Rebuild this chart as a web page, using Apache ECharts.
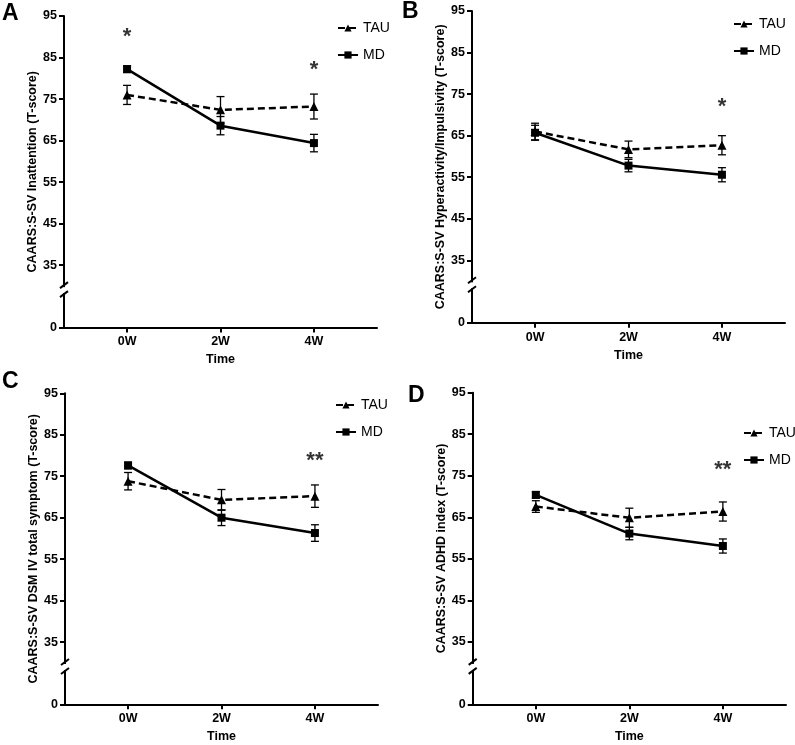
<!DOCTYPE html>
<html><head><meta charset="utf-8">
<script src="https://cdn.jsdelivr.net/npm/echarts@6/dist/echarts.min.js"></script>
<style>html,body{margin:0;padding:0;background:#fff}#c{width:795px;height:745px}</style>
</head><body><div id="c"></div>
<script>
// ---------- data ----------
const categories = ['0W', '2W', '4W'];
const yTickValues = [0, 35, 45, 55, 65, 75, 85, 95];
const seriesNames = ['TAU', 'MD'];
const panelLetters = ['A', 'B', 'C', 'D'];
const yTitles = [
  'CAARS:S-SV Inattention (T-score)',
  'CAARS:S-SV Hyperactivity/Impulsivity (T-score)',
  'CAARS:S-SV DSM IV total symptom (T-score)',
  'CAARS:S-SV ADHD index (T-score)'
];
const xTitle = 'Time';

const tauA = [76.0, 72.4, 73.2];  const tauErrA = [2.3, 3.2, 3.0];
const mdA  = [82.2, 68.6, 64.4];  const mdErrA  = [0.8, 2.2, 2.1];
const tauB = [66.0, 61.7, 62.7];  const tauErrB = [2.0, 2.0, 2.3];
const mdB  = [65.7, 57.8, 55.6];  const mdErrB  = [1.8, 1.5, 1.7];
const tauC = [73.8, 69.3, 70.2];  const tauErrC = [2.1, 2.5, 2.7];
const mdC  = [77.6, 65.0, 61.3];  const mdErrC  = [0.8, 1.9, 2.0];
const tauD = [67.6, 64.9, 66.4];  const tauErrD = [1.4, 2.3, 2.3];
const mdD  = [70.4, 61.1, 58.1];  const mdErrD  = [0.8, 1.5, 1.7];

// significance marks: [category index, value, text]
const starsA = [[0, 91.2, '*'], [2, 83.2, '*']];
const starsB = [[2, 73.0, '*']];
const starsC = [[2, 80.0, '**']];
const starsD = [[2, 77.5, '**']];

// ---------- layout ----------
const BREAK_BASE = 20;   // display position of the "0" tick below the axis break
const BREAK_AT = 29;     // display position of the break marks
const panels = [
  {grid: {left: 64, top: 16, width: 313, height: 311.5}, legend: {left: 337, top: 21}, letter: [2, 2], tau: tauA, tauErr: tauErrA, md: mdA, mdErr: mdErrA, stars: starsA},
  {grid: {left: 472, top: 11, width: 313, height: 311.7}, legend: {left: 733, top: 17}, letter: [402, 0], tau: tauB, tauErr: tauErrB, md: mdB, mdErr: mdErrB, stars: starsB},
  {grid: {left: 65, top: 393.3, width: 313, height: 311}, legend: {left: 335, top: 398}, letter: [2, 370], tau: tauC, tauErr: tauErrC, md: mdC, mdErr: mdErrC, stars: starsC},
  {grid: {left: 472.7, top: 392.7, width: 313.3, height: 311.6}, legend: {left: 743, top: 426}, letter: [408, 384], tau: tauD, tauErr: tauErrD, md: mdD, mdErr: mdErrD, stars: starsD}
];
const XMIN = -0.675, XMAX = 2.675;
const FONT = '"Liberation Sans", Arial, sans-serif';

function disp(v) { return v === 0 ? BREAK_BASE : v; }

function errRender(params, api) {
  const x = api.value(0), lo = api.value(1), hi = api.value(2);
  const pl = api.coord([x, lo]), ph = api.coord([x, hi]);
  const w = 4;
  const st = {stroke: '#000', lineWidth: 1.3};
  return {type: 'group', children: [
    {type: 'line', shape: {x1: pl[0], y1: pl[1], x2: ph[0], y2: ph[1]}, style: st},
    {type: 'line', shape: {x1: pl[0] - w, y1: pl[1], x2: pl[0] + w, y2: pl[1]}, style: st},
    {type: 'line', shape: {x1: ph[0] - w, y1: ph[1], x2: ph[0] + w, y2: ph[1]}, style: st}
  ]};
}

const grids = [], xAxes = [], yAxes = [], legends = [], series = [], graphics = [];
panels.forEach((p, i) => {
  grids.push(Object.assign({containLabel: false}, p.grid));
  xAxes.push({
    type: 'value', gridIndex: i, min: XMIN, max: XMAX,
    name: xTitle, nameLocation: 'middle', nameGap: 26,
    nameTextStyle: {fontWeight: 'bold', fontSize: 12.5, color: '#000', fontFamily: FONT},
    axisLine: {onZero: false, lineStyle: {color: '#000', width: 2}},
    axisTick: {customValues: [0, 1, 2], length: 5, lineStyle: {color: '#000', width: 2}},
    axisLabel: {customValues: [0, 1, 2], formatter: v => categories[Math.round(v)], margin: 8,
      fontWeight: 'bold', fontSize: 12.5, color: '#000', fontFamily: FONT},
    splitLine: {show: false}
  });
  const ticks = yTickValues.map(disp);
  yAxes.push({
    type: 'value', gridIndex: i, min: BREAK_BASE, max: 95,
    name: yTitles[i], nameLocation: 'middle', nameGap: 25,
    nameTextStyle: {fontWeight: 'bold', fontSize: 12.5, color: '#000', fontFamily: FONT},
    axisLine: {show: true, onZero: false, lineStyle: {color: '#000', width: 2}},
    axisTick: {show: true, customValues: ticks, length: 5, lineStyle: {color: '#000', width: 2}},
    axisLabel: {customValues: ticks, formatter: v => (v === BREAK_BASE ? '0' : String(v)), margin: 7,
      fontWeight: 'bold', fontSize: 12.5, color: '#000', fontFamily: FONT},
    splitLine: {show: false}
  });
  legends.push({
    data: seriesNames, orient: 'vertical', left: p.legend.left, top: p.legend.top,
    itemWidth: 20, itemHeight: 9, itemGap: 13, padding: 0, selectedMode: false,
    textStyle: {fontSize: 14, color: '#000', fontFamily: FONT}
  });
  const groups = [
    {name: 'TAU', vals: p.tau, err: p.tauErr, symbol: 'triangle', size: 9, type: [7, 4]},
    {name: 'MD', vals: p.md, err: p.mdErr, symbol: 'rect', size: 8, type: 'solid'}
  ];
  groups.forEach(g => {
    series.push({
      type: 'custom', xAxisIndex: i, yAxisIndex: i, renderItem: errRender, z: 2,
      data: g.vals.map((v, k) => [k, v - g.err[k], v + g.err[k]]),
      encode: {x: 0, y: [1, 2]}, silent: true
    });
  });
  groups.forEach(g => {
    series.push({
      type: 'line', name: g.name, xAxisIndex: i, yAxisIndex: i, z: 3,
      data: g.vals.map((v, k) => [k, v]),
      symbol: g.symbol, symbolSize: g.size, showSymbol: true,
      itemStyle: {color: '#000'},
      lineStyle: {color: '#000', width: 2.5, type: g.type}
    });
  });
  series.push({
    type: 'scatter', xAxisIndex: i, yAxisIndex: i, z: 4,
    data: p.stars.map(s => ({value: [s[0], s[1]], name: s[2]})),
    symbolSize: 1, itemStyle: {color: 'rgba(0,0,0,0)'},
    label: {show: true, position: 'inside', formatter: d => d.name, fontSize: 22, fontWeight: 'bold',
      color: '#000', fontFamily: FONT, offset: [0, 5]}
  });
  graphics.push({
    type: 'text', left: p.letter[0], top: p.letter[1],
    style: {text: panelLetters[i], font: 'bold 23px ' + FONT, fill: '#000'}
  });
});

const chart = echarts.init(document.getElementById('c'), null, {renderer: 'canvas'});
chart.setOption({
  animation: false,
  backgroundColor: '#fff',
  textStyle: {fontFamily: FONT},
  grid: grids, xAxis: xAxes, yAxis: yAxes, legend: legends, series: series,
  graphic: graphics
});

// axis break marks drawn at the break position through the axis scale
panels.forEach((p, i) => {
  const c = chart.convertToPixel({xAxisIndex: i, yAxisIndex: i}, [XMIN, BREAK_AT]);
  const x = c[0], y = c[1];
  graphics.push(
    {type: 'rect', shape: {x: x - 3, y: y - 3, width: 6, height: 6}, style: {fill: '#fff'}, z: 100},
    {type: 'line', shape: {x1: x - 4, y1: y - 2, x2: x + 4, y2: y - 8}, style: {stroke: '#000', lineWidth: 2}, z: 101},
    {type: 'line', shape: {x1: x - 4, y1: y + 7, x2: x + 4, y2: y + 1}, style: {stroke: '#000', lineWidth: 2}, z: 101}
  );
});
chart.setOption({graphic: graphics});
</script>
</body></html>
